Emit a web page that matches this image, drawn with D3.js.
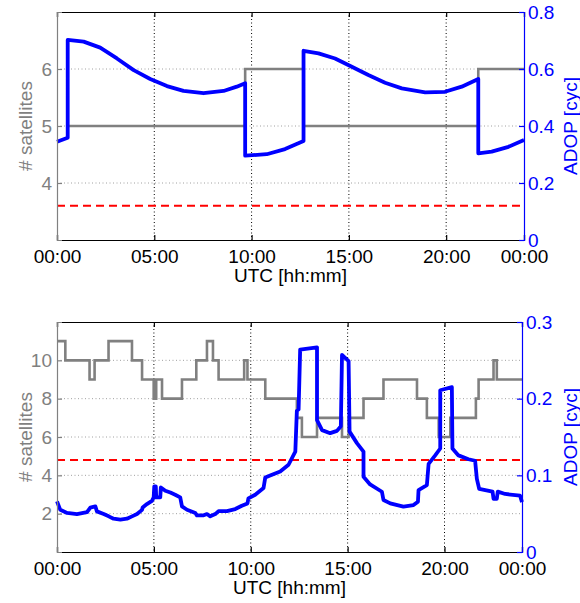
<!DOCTYPE html>
<html><head><meta charset="utf-8">
<script src="https://cdn.jsdelivr.net/npm/d3@7"></script>
<style>html,body{margin:0;padding:0;background:#fff;}svg{display:block;}</style>
</head><body><svg id="c" width="580" height="603"></svg>
<script>
// ---------- data ----------
const xTickHours = [0, 5, 10, 15, 20, 24];
const xTickLabels = ["00:00", "05:00", "10:00", "15:00", "20:00", "00:00"];

// top panel
const topSatTimes  = [0.55, 9.67, 12.67, 21.65, 24];
const topSatValues = [5, 6, 5, 6, 6];
const topAdopTimes  = [0, 0.55, 0.55, 1.37, 2.22, 3.08, 3.94, 4.79, 5.65, 6.50, 7.53, 8.56, 9.24, 9.67, 9.67, 10.78, 11.72, 12.67, 12.67, 13.44, 14.29, 15.15, 16.0, 16.86, 17.72, 18.92, 19.94, 20.80, 21.65, 21.65, 22.34, 23.2, 24];
const topAdopValues = [0.345, 0.359, 0.702, 0.696, 0.675, 0.637, 0.596, 0.565, 0.540, 0.523, 0.515, 0.523, 0.538, 0.550, 0.296, 0.301, 0.319, 0.347, 0.664, 0.655, 0.637, 0.608, 0.579, 0.552, 0.532, 0.518, 0.520, 0.538, 0.565, 0.304, 0.310, 0.327, 0.351];
const topSatTicks = [4, 5, 6];
const topAdopTicks = [0, 0.2, 0.4, 0.6, 0.8];
const topAdopTickLabels = ["0", "0.2", "0.4", "0.6", "0.8"];
const topThreshold = 0.12;

// bottom panel
const botSatTimes  = [0, 0.43, 1.68, 1.94, 2.66, 3.87, 4.39, 4.99, 5.12, 5.42, 6.45, 7.19, 7.74, 8.05, 8.34, 9.66, 9.83, 10.75, 12.38, 12.64, 13.42, 14.71, 15.05, 15.82, 16.85, 18.58, 19.09, 19.7, 20.3, 21.62, 21.76, 22.53, 22.7, 24];
const botSatValues = [11, 10, 9, 10, 11, 10, 9, 8, 9, 8, 9, 10, 11, 10, 9, 10, 9, 8, 7, 6, 7, 6, 7, 8, 9, 8, 7, 6, 7, 8, 9, 10, 9, 9];
const botAdopTimes  = [0, 0.17, 0.52, 1.03, 1.55, 1.72, 1.98, 2.06, 2.41, 2.67, 2.92, 3.27, 3.61, 3.87, 4.13, 4.39, 4.42, 4.64, 4.90, 4.99, 5.02, 5.10, 5.12, 5.33, 5.36, 5.59, 5.85, 6.1, 6.36, 6.45, 6.71, 7.14, 7.22, 7.57, 7.74, 7.91, 8.17, 8.34, 8.77, 9.2, 9.54, 9.83, 9.88, 10.23, 10.66, 10.75, 11.0, 11.52, 11.95, 12.3, 12.38, 12.47, 12.55, 13.42, 13.42, 13.68, 14.1, 14.45, 14.65, 14.71, 15.05, 15.1, 15.48, 15.82, 15.82, 16.16, 16.77, 16.85, 17.2, 17.88, 18.4, 18.63, 18.66, 19.09, 19.18, 19.52, 19.78, 19.78, 20.38, 20.41, 20.72, 21.24, 21.58, 21.67, 21.79, 22.48, 22.53, 22.7, 22.75, 23.13, 23.9, 24];
const botAdopValues = [0.066, 0.055, 0.051, 0.0495, 0.052, 0.058, 0.0595, 0.053, 0.0495, 0.0465, 0.0434, 0.0421, 0.0434, 0.0465, 0.0495, 0.055, 0.058, 0.0625, 0.0668, 0.0712, 0.0855, 0.0855, 0.0712, 0.0712, 0.0842, 0.0799, 0.0775, 0.0747, 0.0712, 0.0595, 0.0551, 0.0508, 0.0478, 0.0478, 0.0495, 0.0465, 0.0495, 0.0534, 0.0534, 0.056, 0.0603, 0.0634, 0.0699, 0.0747, 0.0834, 0.0973, 0.0999, 0.105, 0.1138, 0.131, 0.184, 0.186, 0.264, 0.267, 0.172, 0.159, 0.155, 0.158, 0.164, 0.257, 0.249, 0.157, 0.142, 0.131, 0.098, 0.0882, 0.0786, 0.0678, 0.0634, 0.0591, 0.0612, 0.0656, 0.0808, 0.0873, 0.115, 0.126, 0.135, 0.211, 0.215, 0.135, 0.126, 0.121, 0.119, 0.0953, 0.0823, 0.0788, 0.0693, 0.0693, 0.0788, 0.0757, 0.0734, 0.065];
const botSatTicks = [2, 4, 6, 8, 10];
const botAdopTicks = [0, 0.1, 0.2, 0.3];
const botAdopTickLabels = ["0", "0.1", "0.2", "0.3"];
const botThreshold = 0.12;

// ---------- drawing ----------
const svg = d3.select("#c");
const FONT = "'Liberation Sans', Arial, Helvetica, sans-serif";
const GRAY = "#808080", BLUE = "#0000ff";

function panel(cfg) {
  const x = d3.scaleLinear().domain([0, 24]).range([cfg.left, cfg.right]);
  const yL = d3.scaleLinear().domain(cfg.satDomain).range([cfg.bottom, cfg.top]);
  const yR = d3.scaleLinear().domain(cfg.adopDomain).range([cfg.bottom, cfg.top]);
  const g = svg.append("g");

  // grid: vertical (black dotted), horizontal (gray dotted)
  g.append("g").selectAll("line").data(xTickHours.slice(1, -1)).join("line")
    .attr("x1", d => x(d)).attr("x2", d => x(d))
    .attr("y1", cfg.top).attr("y2", cfg.bottom)
    .attr("stroke", "#000").attr("stroke-width", 1).attr("stroke-dasharray", "1,2.5");
  g.append("g").selectAll("line").data(cfg.satTicks).join("line")
    .attr("x1", cfg.left).attr("x2", cfg.right)
    .attr("y1", d => yL(d)).attr("y2", d => yL(d))
    .attr("stroke", "#a0a0a0").attr("stroke-width", 1).attr("stroke-dasharray", "1,2.5");

  // threshold red dashed
  g.append("line").attr("x1", cfg.left).attr("x2", cfg.right)
    .attr("y1", yR(cfg.threshold)).attr("y2", yR(cfg.threshold))
    .attr("stroke", "#ff0000").attr("stroke-width", 2).attr("stroke-dasharray", "8,5");

  // satellites step line
  const satData = cfg.satTimes.map((t, i) => [t, cfg.satValues[i]]);
  g.append("path").datum(satData)
    .attr("d", d3.line().x(d => x(d[0])).y(d => yL(d[1])).curve(d3.curveStepAfter))
    .attr("fill", "none").attr("stroke", GRAY).attr("stroke-width", 2.6);

  // ADOP line
  const adopData = cfg.adopTimes.map((t, i) => [t, cfg.adopValues[i]]);
  g.append("path").datum(adopData)
    .attr("d", d3.line().x(d => x(d[0])).y(d => yR(d[1])))
    .attr("fill", "none").attr("stroke", BLUE).attr("stroke-width", 3.8)
    .attr("stroke-linejoin", "round");

  // axes box
  const xTop = d3.axisTop(x).tickValues(xTickHours).tickSize(-5).tickFormat("");
  g.append("g").attr("transform", `translate(0,${cfg.top})`).call(xTop)
    .call(s => s.selectAll("line,path").attr("stroke", "#000").attr("stroke-width", 1.2));
  const xBot = d3.axisBottom(x).tickValues(xTickHours).tickSize(-5).tickPadding(16)
    .tickFormat((d, i) => xTickLabels[i]);
  g.append("g").attr("transform", `translate(0,${cfg.bottom})`).call(xBot)
    .call(s => s.selectAll("line,path").attr("stroke", "#000").attr("stroke-width", 1.2))
    .call(s => s.selectAll("text").attr("font-family", FONT).attr("font-size", 19).attr("fill", "#000")
      .attr("dy", null).attr("y", 23));
  const yLeft = d3.axisLeft(yL).tickValues(cfg.satTicks).tickSize(-5).tickPadding(5).tickFormat(d3.format("d"));
  g.append("g").attr("transform", `translate(${cfg.left},0)`).call(yLeft)
    .call(s => s.selectAll("line,path").attr("stroke", GRAY).attr("stroke-width", 1.2))
    .call(s => s.selectAll("text").attr("font-family", FONT).attr("font-size", 19).attr("fill", GRAY));
  const yRight = d3.axisRight(yR).tickValues(cfg.adopTicks).tickSize(-5).tickPadding(4)
    .tickFormat((d, i) => cfg.adopTickLabels[i]);
  g.append("g").attr("transform", `translate(${cfg.right},0)`).call(yRight)
    .call(s => s.selectAll("line,path").attr("stroke", BLUE).attr("stroke-width", 1.2))
    .call(s => s.selectAll("text").attr("font-family", FONT).attr("font-size", 19).attr("fill", BLUE));

  // axis titles
  const mid = (cfg.top + cfg.bottom) / 2;
  g.append("text").attr("x", (cfg.left + cfg.right) / 2).attr("y", cfg.bottom + 42)
    .attr("text-anchor", "middle").attr("font-family", FONT).attr("font-size", 19).attr("fill", "#000")
    .text("UTC [hh:mm]");
  g.append("text").attr("transform", `translate(32,${mid}) rotate(-90)`)
    .attr("text-anchor", "middle").attr("font-family", FONT).attr("font-size", 19).attr("fill", GRAY)
    .text("# satellites");
  g.append("text").attr("transform", `translate(577,${mid}) rotate(-90)`)
    .attr("text-anchor", "middle").attr("font-family", FONT).attr("font-size", 19).attr("fill", BLUE)
    .text("ADOP [cyc]");
}

panel({left: 57, right: 524, top: 12, bottom: 240,
  satDomain: [3, 7], adopDomain: [0, 0.8],
  satTicks: topSatTicks, adopTicks: topAdopTicks, adopTickLabels: topAdopTickLabels,
  satTimes: topSatTimes, satValues: topSatValues,
  adopTimes: topAdopTimes, adopValues: topAdopValues, threshold: topThreshold});

panel({left: 57, right: 522, top: 322, bottom: 552,
  satDomain: [0, 12], adopDomain: [0, 0.3],
  satTicks: botSatTicks, adopTicks: botAdopTicks, adopTickLabels: botAdopTickLabels,
  satTimes: botSatTimes, satValues: botSatValues,
  adopTimes: botAdopTimes, adopValues: botAdopValues, threshold: botThreshold});
</script></body></html>
